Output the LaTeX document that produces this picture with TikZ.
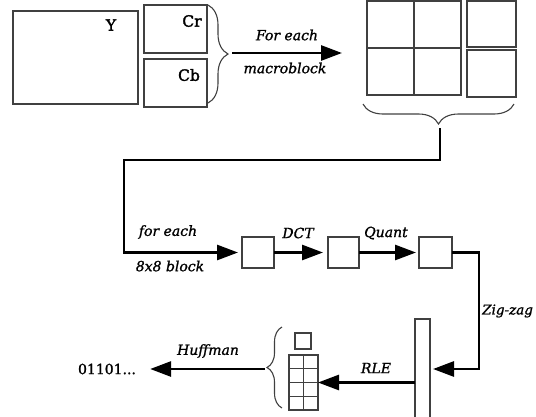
\documentclass[tikz,border=0pt]{standalone}
\usepackage{fontspec}
\newfontfamily\lab[FakeBold=1.2]{DejaVu Serif}
\newfontfamily\labb[FakeBold=2]{DejaVu Serif}
\usetikzlibrary{arrows.meta,decorations.pathreplacing,calc}
\begin{document}
\begin{tikzpicture}[x=1pt,y=-1pt,
  box/.style={draw=black!75,line width=1.1pt,inner sep=0pt,outer sep=0pt},
  sep/.style={draw=black!75,line width=1.1pt},
  flow/.style={line width=2.8pt,line join=miter,-{Triangle[length=21pt,width=15pt]}},
  lbl/.style={font=\lab\itshape\fontsize{14}{16}\selectfont,inner sep=0pt},
  txt/.style={font=\lab\fontsize{14}{16}\selectfont,inner sep=0pt},
  btxt/.style={font=\labb\fontsize{15.5}{17}\selectfont,inner sep=0pt},
  brc/.style={draw=black!75,line width=1.1pt,decorate,decoration={brace,amplitude=#1}}]
\useasboundingbox (0,0) rectangle (536,416);

% source planes
\node[box,minimum width=125pt,minimum height=93pt] (Y) at (75.5,57.5) {};
\node[btxt] (ylab) at (111,25) {Y};
\node[box,minimum width=63pt,minimum height=48pt] (Cr) at (175.5,29) {};
\node[btxt] (crlab) at (192,21) {Cr};
\node[box,minimum width=63pt,minimum height=48pt] (Cb) at (175.5,83) {};
\node[btxt] (cblab) at (189,75) {Cb};

\draw[brc=20pt] (208,5) -- (208,103);
\coordinate (b1tip) at (232,53);
\coordinate (mbin) at (342,53);
\draw[flow] (b1tip) -- (mbin);
\node[lbl] (fe1) at (287,35) {For each};
\node[lbl] (mbl) at (285,68) {macroblock};

% macroblock
\node[box,minimum width=94pt,minimum height=94pt] (mb) at (414,48) {};
\draw[sep] (mb.north) -- (mb.south);
\draw[sep] (mb.west) -- (mb.east);
\node[box,minimum width=49pt,minimum height=46pt] (mcr) at (491.5,24) {};
\node[box,minimum width=49pt,minimum height=47pt] (mcb) at (491.5,73.5) {};

\draw[brc=20pt] (514,104) -- (363,104);
\coordinate (b2tip) at (440,128);
\coordinate (c1) at (440,160);
\coordinate (c2) at (124,160);
\coordinate (c3) at (124,252.5);

% 8x8 pipeline
\node[box,minimum width=32pt,minimum height=31pt] (k1) at (258,252.5) {};
\node[box,minimum width=31pt,minimum height=31pt] (k2) at (343.5,252.5) {};
\node[box,minimum width=33pt,minimum height=31pt] (k3) at (435.5,252.5) {};

\draw[flow,shorten >=4pt] (b2tip) -- (c1) -- (c2) -- (c3) -- (k1.west);
\draw[flow,shorten >=5pt] (k1.east) -- (k2.west);
\draw[flow,shorten >=3pt] (k2.east) -- (k3.west);
\node[lbl] (fe2) at (168,232) {for each};
\node[lbl] (bl) at (170,266) {8x8 block};
\node[lbl] (dct) at (298,233) {DCT};
\node[lbl] (qu) at (386,233) {Quant};

% zig-zag
\node[box,minimum width=15pt,minimum height=110pt] (bar) at (422.5,374) {};
\coordinate (z1) at (479,252.5);
\coordinate (z2) at (479,369);
\draw[flow,shorten >=3pt] (k3.east) -- (z1) -- (z2) -- (bar.east |- z2);
\node[lbl,anchor=west,font=\lab\itshape\fontsize{13.5}{16}\selectfont] (zz) at (482,311) {Zig-zag};

% RLE output
\node[box,minimum width=16pt,minimum height=16pt] (sq) at (303,341) {};
\node[box,minimum width=29pt,minimum height=55pt] (st) at (303.5,382.5) {};
\draw[sep] (st.north) -- (st.south);
\draw[sep] ($(st.north west)+(0,13.75)$) -- ($(st.north east)+(0,13.75)$);
\draw[sep] (st.west) -- (st.east);
\draw[sep] ($(st.south west)+(0,-13.75)$) -- ($(st.south east)+(0,-13.75)$);
\draw[flow] (bar.west |- st.east) -- (st.east);
\node[lbl] (rle) at (376,368) {RLE};

\draw[brc=15pt] (282,408) -- (282,327);
\coordinate (b3tip) at (265,369);
\node[txt] (bits) at (107,369) {01101...};
\draw[flow,shorten >=14pt] (b3tip) -- (bits.east);
\node[lbl] (huf) at (208,351) {Huffman};
\end{tikzpicture}
\end{document}
